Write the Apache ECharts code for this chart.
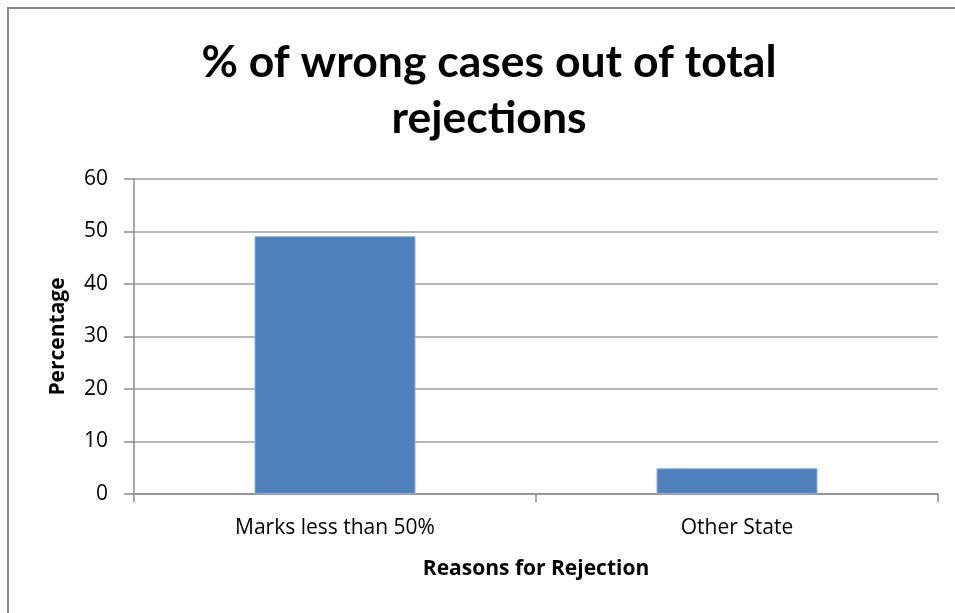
<!DOCTYPE html>
<html>
<head>
<meta charset="utf-8">
<script src="https://cdn.jsdelivr.net/npm/echarts@6/dist/echarts.min.js"></script>
<style>
html, body { margin: 0; padding: 0; background: #fff; }
#chart { width: 955px; height: 613px; }
.frame { position: absolute; left: 7px; top: 7px; width: 960px; height: 620px; border: 2px solid #8a8a8a; pointer-events: none; }
</style>
</head>
<body>
<div id="chart"></div>
<div class="frame"></div>
<script>
// data
const reasons = ['Marks less than 50%', 'Other State'];
const percentages = [49.1, 4.9];
const yTicks = { min: 0, max: 60, interval: 10 };

const dom = document.getElementById('chart');
const myChart = echarts.init(dom);

var option = {
	animation: false,
	title: {
		text: '% of wrong cases out of total\nrejections',
		left: 484,
		textAlign: 'center',
		top: 30,
		textStyle: {
			fontFamily: 'Lato',
			fontWeight: 'bold',
			fontSize: 44.5,
			lineHeight: 56,
			color: '#000'
		}
	},
	grid: {
		left: 134,
		right: 17,
		top: 179,
		bottom: 119
	},
	xAxis: {
		type: 'category',
		data: reasons,
		name: 'Reasons for Rejection',
		nameLocation: 'middle',
		nameGap: 65,
		nameTextStyle: {
			fontFamily: 'Open Sans',
			fontWeight: 'bold',
			fontSize: 21,
			color: '#000'
		},
		axisLine: { lineStyle: { color: '#8c8c8c', width: 1.5 } },
		axisTick: { show: true, length: 8, lineStyle: { color: '#8c8c8c', width: 1.5 } },
		axisLabel: {
			margin: 24,
			fontFamily: 'Open Sans',
			fontSize: 21,
			color: '#000'
		}
	},
	yAxis: {
		type: 'value',
		min: yTicks.min,
		max: yTicks.max,
		interval: yTicks.interval,
		name: 'Percentage',
		nameLocation: 'middle',
		nameGap: 65,
		nameTextStyle: {
			fontFamily: 'Open Sans',
			fontWeight: 'bold',
			fontSize: 21,
			color: '#000'
		},
		axisLine: { show: true, lineStyle: { color: '#8c8c8c', width: 1.5 } },
		axisTick: { show: true, length: 10, lineStyle: { color: '#8c8c8c', width: 1.5 } },
		axisLabel: {
			margin: 26,
			fontFamily: 'Open Sans',
			fontSize: 21,
			color: '#000'
		},
		splitLine: { lineStyle: { color: '#a0a0a0', width: 1.5 } }
	},
	series: [{
		type: 'bar',
		data: percentages,
		barWidth: 161,
		itemStyle: {
			color: '#4f81bd',
			borderColor: '#8eb0d8',
			borderWidth: 1
		}
	}]
};
myChart.setOption(option);
</script>
</body>
</html>
